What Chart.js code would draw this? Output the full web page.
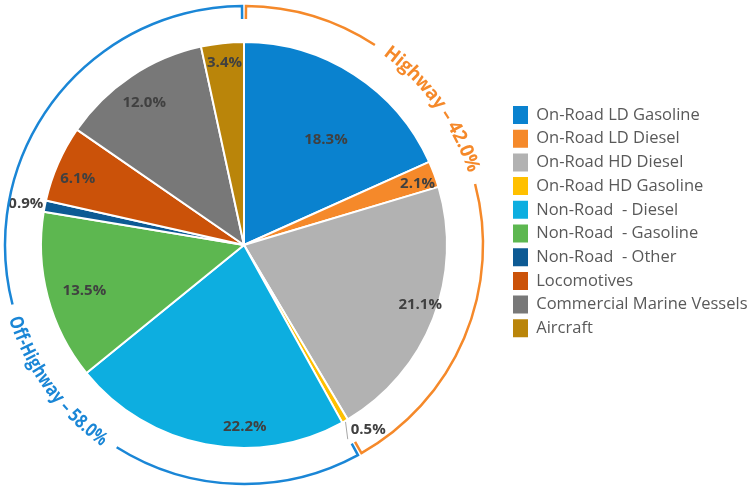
<!DOCTYPE html>
<html>
<head>
<meta charset="utf-8">
<script src="https://cdn.jsdelivr.net/npm/chart.js@4.4.1/dist/chart.umd.min.js"></script>
<style>
  html, body { margin: 0; padding: 0; background: #fff; }
  #wrap { width: 750px; height: 488px; }
</style>
</head>
<body>
<div id="wrap"><canvas id="chart" width="750" height="488"></canvas></div>
<script>
// slices, clockwise from 12 o'clock
const categories = [
  'On-Road LD Gasoline',
  'On-Road LD Diesel',
  'On-Road HD Diesel',
  'On-Road HD Gasoline',
  'Non-Road  - Diesel',
  'Non-Road  - Gasoline',
  'Non-Road  - Other',
  'Locomotives',
  'Commercial Marine Vessels',
  'Aircraft'
];
const shares = [18.3, 2.1, 21.1, 0.5, 22.2, 13.5, 0.9, 6.1, 12.0, 3.4];
const sliceColors = [
  '#0A82CF', '#F5892A', '#B2B2B2', '#FFC000', '#0DAEE0',
  '#5DB750', '#0D5A94', '#CB5209', '#787878', '#BA850A'
];

// the two outer brackets
const groupLabels = ['Highway – 42.0%', 'Off-Highway – 58.0%'];
const groupFirst = [0, 4];
const groupLast = [3, 9];
const groupColors = ['#F5892A', '#1A86D6'];

// where the percentage text sits (px from centre, degrees of turn from slice middle)
const labelDist = [133, 184, 186, 223, 182, 166, 222, 179, 174, 183];
const labelShift = [5.1, 1, -2.6, -4, -11.2, -1.1, -0.4, -1.9, -1.2, 0];
const withLeader = [3];

const FONT = '"Open Sans", "Liberation Sans", sans-serif';
const deg = Math.PI / 180;

const sliceLabels = {
  id: 'sliceLabels',
  afterDatasetsDraw(chart) {
    const ctx = chart.ctx;
    const arcs = chart.getDatasetMeta(0).data;
    ctx.save();
    ctx.font = 'bold 15px ' + FONT;
    ctx.fillStyle = '#404040';
    ctx.textAlign = 'center';
    ctx.textBaseline = 'middle';
    arcs.forEach((arc, i) => {
      const mid = (arc.startAngle + arc.endAngle) / 2 + labelShift[i] * deg;
      const lx = arc.x + Math.cos(mid) * labelDist[i];
      const ly = arc.y + Math.sin(mid) * labelDist[i];
      const txt = shares[i].toFixed(1) + '%';
      if (withLeader.includes(i)) {
        const m = (arc.startAngle + arc.endAngle) / 2;
        const w = ctx.measureText(txt).width;
        ctx.strokeStyle = '#A6A6A6';
        ctx.lineWidth = 1;
        ctx.beginPath();
        ctx.moveTo(arc.x + Math.cos(m) * (arc.outerRadius + 1), arc.y + Math.sin(m) * (arc.outerRadius + 1));
        ctx.lineTo(lx - w / 2 - 3, ly + 9);
        ctx.stroke();
      }
      ctx.fillText(txt, lx, ly);
    });
    ctx.restore();
  }
};

// text along a circle; glyphs are squeezed sideways when the text is longer than the span
function curvedText(ctx, text, cx, cy, r, centre, span, clockwise) {
  const chars = [...text];
  const widths = chars.map(c => ctx.measureText(c).width);
  const total = widths.reduce((a, b) => a + b, 0);
  const len = span * r;
  const squeeze = Math.min(1, len / total);
  const extra = squeeze < 1 ? 0 : (len - total) / (chars.length - 1);
  let acc = 0;
  chars.forEach((c, i) => {
    const w = widths[i] * squeeze;
    const o = acc + w / 2;
    const th = clockwise ? centre - span / 2 + o / r : centre + span / 2 - o / r;
    ctx.save();
    ctx.translate(cx + Math.cos(th) * r, cy + Math.sin(th) * r);
    ctx.rotate(clockwise ? th + Math.PI / 2 : th - Math.PI / 2);
    ctx.scale(squeeze, 1);
    ctx.fillText(c, 0, 0);
    ctx.restore();
    acc += w + extra;
  });
}

const groupArcs = {
  id: 'groupArcs',
  afterDatasetsDraw(chart) {
    const ctx = chart.ctx;
    const arcs = chart.getDatasetMeta(0).data;
    const cx = arcs[0].x, cy = arcs[0].y;
    const R = 239, tick = 13, gap = 2 / R;
    const textPos = [0.358, 0.396];
    const textSpan = [36 * deg, 37.4 * deg];
    const pad = 3 * deg;
    ctx.save();
    ctx.lineWidth = 2.5;
    ctx.font = 'bold 19px ' + FONT;
    ctx.textAlign = 'center';
    ctx.textBaseline = 'middle';
    groupLabels.forEach((label, g) => {
      const s = arcs[groupFirst[g]].startAngle + gap;
      const e = arcs[groupLast[g]].endAngle - gap;
      const tc = s + (e - s) * textPos[g];
      const half = textSpan[g] / 2 + pad;
      ctx.strokeStyle = groupColors[g];
      ctx.fillStyle = groupColors[g];
      ctx.beginPath();
      ctx.moveTo(cx + Math.cos(s) * (R - tick), cy + Math.sin(s) * (R - tick));
      ctx.lineTo(cx + Math.cos(s) * R, cy + Math.sin(s) * R);
      ctx.arc(cx, cy, R, s, tc - half);
      ctx.stroke();
      ctx.beginPath();
      ctx.arc(cx, cy, R, tc + half, e);
      ctx.lineTo(cx + Math.cos(e) * (R - tick), cy + Math.sin(e) * (R - tick));
      ctx.stroke();
      curvedText(ctx, label, cx, cy, R + 2, tc, textSpan[g], g === 0);
    });
    ctx.restore();
  }
};

// legend lives on top of the chart area, moved to its own spot
const legendSpot = {
  id: 'legendSpot',
  afterLayout(chart) {
    const lg = chart.legend;
    const pad = lg.options.labels.padding;
    lg.left = 513 - pad;
    lg.top = 106 - pad;
    lg.right = 750;
    lg.bottom = 488;
  }
};

new Chart(document.getElementById('chart'), {
  type: 'pie',
  data: {
    labels: categories,
    datasets: [{
      data: shares,
      backgroundColor: sliceColors,
      borderColor: '#ffffff',
      borderWidth: 2,
      radius: 203
    }]
  },
  options: {
    responsive: false,
    animation: false,
    events: [],
    layout: { padding: { left: 0, right: 262, top: 2, bottom: 0 } },
    plugins: {
      tooltip: { enabled: false },
      legend: {
        position: 'chartArea',
        align: 'start',
        labels: {
          boxWidth: 15,
          boxHeight: 18,
          padding: 5.7,
          color: '#595959',
          font: { family: FONT, size: 16.5 },
          generateLabels: () => categories.map((c, i) => ({
            text: c,
            fillStyle: sliceColors[i],
            strokeStyle: sliceColors[i],
            lineWidth: 0,
            hidden: false,
            index: i,
            fontColor: '#595959'
          }))
        }
      }
    }
  },
  plugins: [legendSpot, sliceLabels, groupArcs]
});
</script>
</body>
</html>
